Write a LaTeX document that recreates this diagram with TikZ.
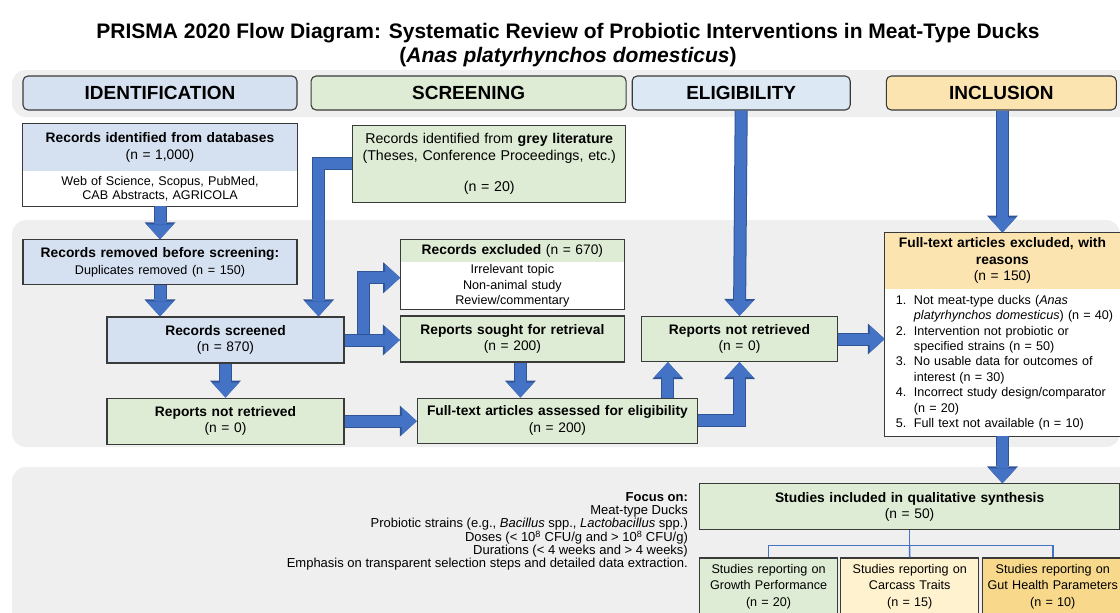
\documentclass[tikz,border=0pt]{standalone}
\usepackage{fontspec}
\setmainfont{Liberation Sans}
\usetikzlibrary{arrows.meta,positioning}

\definecolor{bandGrey}{HTML}{EFEFEF}
\definecolor{idBlue}{HTML}{D5E1F1}
\definecolor{eligBlue}{HTML}{DCE8F4}
\definecolor{scrGreen}{HTML}{DFECD5}
\definecolor{incYellow}{HTML}{FBE4B0}
\definecolor{carcYellow}{HTML}{FFF2CE}
\definecolor{gutYellow}{HTML}{F8D98C}
\definecolor{edgeGrey}{HTML}{3A3A3A}
\definecolor{arrowBlue}{HTML}{4472C4}
\definecolor{arrowEdge}{HTML}{2F5597}

\newcommand{\diagtitlefont}{\fontsize{21}{24}\selectfont\bfseries}
\newcommand{\phasefont}{\fontsize{19}{22}\selectfont\bfseries}
\newcommand{\boxtextfont}{\fontsize{13.8}{16.5}\selectfont}
\newcommand{\notefont}{\fontsize{12.6}{13.5}\selectfont}
\newcommand{\reasonitem}[1]{\hspace*{11pt}\makebox[18pt][l]{#1}}
\newcommand{\reasoncont}{\hspace*{29pt}}

\begin{document}
\begin{tikzpicture}[
  x=1pt, y=-1pt,
  band/.style={fill=bandGrey, rounded corners=14pt},
  phase/.style={draw=edgeGrey, line width=1.1pt, rounded corners=5pt, minimum height=34pt,
                inner sep=0pt, font=\phasefont},
  box/.style={draw=edgeGrey, line width=1.1pt, align=center, inner sep=0pt, font=\boxtextfont},
  part/.style={align=center, inner sep=0pt, font=\boxtextfont},
  frame/.style={draw=edgeGrey, line width=1.1pt},
  arr/.style={draw=arrowBlue, line width=11pt, -{Triangle[length=15pt,width=27pt,line width=0pt]},
              preaction={draw=arrowEdge, line width=13pt, -{Triangle[length=17pt,width=31pt,line width=0pt]}}},
  link/.style={draw=arrowBlue, line width=1.6pt}
]
\useasboundingbox (0,0) rectangle (1120,613);
\clip (0,0) rectangle (1120,613);

% Hintergrundbaender
\fill[band] (12,70) rectangle (1140,117);
\fill[band] (12,220) rectangle (1120,447);
\fill[band] (12,467) rectangle (1140,640);

% Titel
\node[font=\diagtitlefont, align=center] (title) at (568,45)
  {PRISMA 2020 Flow Diagram: Systematic Review of Probiotic Interventions in Meat-Type Ducks\\(\textit{Anas platyrhynchos domesticus})};

% Phasen
\node[phase, fill=idBlue, minimum width=274pt] (hid) at (160,93) {IDENTIFICATION};
\node[phase, fill=scrGreen, minimum width=315pt, right=13pt of hid] (hscr) {SCREENING};
\node[phase, fill=eligBlue, minimum width=218pt, right=5pt of hscr] (helig) {ELIGIBILITY};
\node[phase, fill=incYellow, minimum width=230pt, right=35pt of helig] (hinc) {INCLUSION};

% Identification
\node[part, fill=idBlue, text width=274pt, minimum height=47pt, below=13pt of hid] (dbhead)
  {\textbf{Records identified from databases}\\(n = 1,000)};
\node[part, fill=white, text width=274pt, minimum height=35pt, below=0pt of dbhead, font=\notefont] (dbbody)
  {Web of Science, Scopus, PubMed,\\CAB Abstracts, AGRICOLA};
\draw[frame] (dbhead.north west) rectangle (dbbody.south east);

\node[box, fill=idBlue, text width=274pt, minimum height=45pt, below=33pt of dbbody] (removed)
  {\textbf{Records removed before screening:}\\{\notefont Duplicates removed (n = 150)}};
\node[box, fill=idBlue, text width=237pt, minimum height=46pt, below=31pt of removed, xshift=65.5pt] (screened)
  {\textbf{Records screened}\\(n = 870)};
\node[box, fill=scrGreen, text width=237pt, minimum height=46pt, below=34pt of screened] (notret1)
  {\textbf{Reports not retrieved}\\(n = 0)};

% Screening
\node[box, fill=scrGreen, text width=273pt, minimum height=77pt, anchor=north west,
      font=\fontsize{14.2}{17}\selectfont] (grey) at ([xshift=55pt,yshift=-1pt]dbhead.north east)
  {Records identified from \textbf{grey literature}\\(Theses, Conference Proceedings, etc.)\\[14pt](n = 20)};
\node[part, fill=scrGreen, text width=224pt, minimum height=22pt, anchor=north west] (exclhead)
  at ([xshift=48pt,yshift=-37pt]grey.south west) {\textbf{Records excluded} (n = 670)};
\node[part, fill=white, text width=224pt, minimum height=47pt, below=0pt of exclhead,
      font=\fontsize{12.6}{15.5}\selectfont] (exclbody)
  {Irrelevant topic\\Non-animal study\\Review/commentary};
\draw[frame] (exclhead.north west) rectangle (exclbody.south east);

\node[box, fill=scrGreen, text width=224pt, minimum height=46pt, below=6pt of exclbody] (sought)
  {\textbf{Reports sought for retrieval}\\(n = 200)};
\node[box, fill=scrGreen, text width=280pt, minimum height=45pt, below=35pt of sought, xshift=45pt] (fulltext)
  {\textbf{Full-text articles assessed for eligibility}\\(n = 200)};

% Eligibility
\node[box, fill=scrGreen, text width=196pt, minimum height=45pt, right=16pt of sought] (notret2)
  {\textbf{Reports not retrieved}\\(n = 0)};

% Inclusion
\node[part, fill=incYellow, text width=235pt, minimum height=56pt, anchor=north west] (fthead)
  at ([xshift=-1pt,yshift=-122pt]hinc.south west)
  {\textbf{Full-text articles excluded, with}\\\textbf{reasons}\\(n = 150)};
\node[part, fill=white, text width=235pt, minimum height=147pt, below=0pt of fthead,
      align=left, font=\fontsize{12.6}{15.4}\selectfont] (ftbody)
  {\reasonitem{1.}Not meat-type ducks (\textit{Anas}\\
   \reasoncont\textit{platyrhynchos domesticus}) (n = 40)\\
   \reasonitem{2.}Intervention not probiotic or\\
   \reasoncont specified strains (n = 50)\\
   \reasonitem{3.}No usable data for outcomes of\\
   \reasoncont interest (n = 30)\\
   \reasonitem{4.}Incorrect study design/comparator\\
   \reasoncont(n = 20)\\
   \reasonitem{5.}Full text not available (n = 10)};
\draw[frame] (fthead.north west) rectangle (ftbody.south east);

\node[box, fill=scrGreen, text width=420pt, minimum height=46pt, anchor=north east] (synth)
  at ([yshift=-47pt]ftbody.south east)
  {\textbf{Studies included in qualitative synthesis}\\(n = 50)};
\node[box, fill=scrGreen, text width=138pt, minimum height=57pt, anchor=north west,
      font=\fontsize{12.6}{16.5}\selectfont] (growth) at ([yshift=-27pt]synth.south west)
  {Studies reporting on\\Growth Performance\\(n = 20)};
\node[box, fill=carcYellow, text width=138pt, minimum height=57pt, right=2pt of growth,
      font=\fontsize{12.6}{16.5}\selectfont] (carcass)
  {Studies reporting on\\Carcass Traits\\(n = 15)};
\node[box, fill=gutYellow, text width=140pt, minimum height=57pt, right=3pt of carcass,
      font=\fontsize{12.6}{16.5}\selectfont] (gut)
  {Studies reporting on\\Gut Health Parameters\\(n = 10)};

\node[align=right, inner sep=0pt, anchor=north east, font=\fontsize{13}{13}\selectfont] (focus)
  at ([xshift=-11pt,yshift=-9pt]synth.north west)
  {\textbf{Focus on:}\\Meat-type Ducks\\
   Probiotic strains (e.g., \textit{Bacillus} spp., \textit{Lactobacillus} spp.)\\
   Doses (< 10\textsuperscript{8} CFU/g and > 10\textsuperscript{8} CFU/g)\\
   Durations (< 4 weeks and > 4 weeks)\\
   Emphasis on transparent selection steps and detailed data extraction.};

% Pfeile
\draw[arr] (dbbody.south) -- (removed.north);
\draw[arr] (removed.south) -- (removed.south |- screened.north);
\draw[arr] (grey.west) -| ([xshift=-26pt]screened.north east);
\draw[arr] (screened.south) -- (notret1.north);
\draw[arr] ([xshift=19pt]screened.east) |- ([yshift=8pt]exclbody.west);
\draw[arr] (screened.east) -- (screened.east -| sought.west);
\draw[arr] ([xshift=8pt]sought.south) -- ([xshift=8pt]sought.south |- fulltext.north);
\draw[arr] (notret1.east) -- (notret1.east -| fulltext.west);
\draw[arr] ([xshift=-30pt]fulltext.north east) -- ([xshift=-30pt]fulltext.north east |- notret2.south);
\draw[arr] (fulltext.east) -| (notret2.south);
\draw[arr] (helig.south) -- (notret2.north);
\draw[arr] (notret2.east) -- (notret2.east -| ftbody.west);
\draw[arr] (hinc.south -| fthead.north) -- (fthead.north);
\draw[arr] (ftbody.south) -- (ftbody.south |- synth.north);

% Verzweigung
\draw[link] (synth.south) -- ++(0,15) coordinate (fork);
\draw[link] (growth.north) |- (fork) -| (gut.north);
\draw[link] (fork) -- (carcass.north);

\end{tikzpicture}
\end{document}
